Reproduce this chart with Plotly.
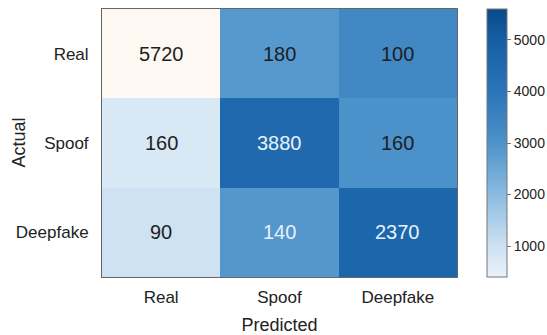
import plotly.graph_objects as go

# Confusion matrix: rows = actual class, columns = predicted class
classes = ["Real", "Spoof", "Deepfake"]
counts = [
    [5720, 180, 100],
    [160, 3880, 160],
    [90, 140, 2370],
]
# Shade level of each cell on the colour bar (None = unshaded cell)
cell_shade = [
    [None, 2850, 3350],
    [750, 4500, 3050],
    [950, 2900, 4650],
]
# Cells whose count is printed in light text
light_text = [
    [False, False, False],
    [False, True, False],
    [False, True, True],
]
cbar_ticks = [1000, 2000, 3000, 4000, 5000]

ZMIN, ZMAX = 400, 5600


def stop(v):
    return (v - ZMIN) / (ZMAX - ZMIN)


colorscale = [
    [0.0, "#eaf2fa"],
    [stop(1000), "#cde1f2"],
    [stop(2000), "#8bbbe0"],
    [stop(3000), "#4d93cb"],
    [stop(4000), "#2a74b8"],
    [stop(5000), "#155ea4"],
    [1.0, "#0a4a8a"],
]

FONT = "Liberation Sans, Arial, Helvetica, sans-serif"

fig = go.Figure(
    go.Heatmap(
        z=cell_shade,
        x=classes,
        y=classes,
        zmin=ZMIN,
        zmax=ZMAX,
        colorscale=colorscale,
        hoverongaps=False,
        colorbar=dict(
            thickness=20,
            len=1.0,
            lenmode="fraction",
            y=0.5,
            yanchor="middle",
            x=1.0845,
            xanchor="left",
            xpad=0,
            ypad=0,
            outlinecolor="#777",
            outlinewidth=1,
            tickvals=cbar_ticks,
            ticks="outside",
            ticklen=4,
            tickcolor="#777",
            tickfont=dict(family=FONT, size=14, color="#222"),
        ),
    )
)

# Count labels in each cell
for i, actual in enumerate(classes):
    for j, pred in enumerate(classes):
        fig.add_annotation(
            x=pred,
            y=actual,
            text=str(counts[i][j]),
            showarrow=False,
            font=dict(family=FONT, size=20,
                      color="#e8f1fa" if light_text[i][j] else "#1e1e1e"),
        )

# Y axis title sits close to the tick labels
fig.add_annotation(
    text="Actual",
    xref="paper",
    yref="paper",
    x=-0.235,
    y=0.5,
    xanchor="center",
    yanchor="middle",
    textangle=-90,
    showarrow=False,
    font=dict(family=FONT, size=18, color="#222"),
)

fig.update_layout(
    width=547,
    height=335,
    margin=dict(l=102, r=90, t=9, b=58, autoexpand=False),
    paper_bgcolor="white",
    plot_bgcolor="#fdf8f2",
    font=dict(family=FONT, color="#222"),
    xaxis=dict(
        title=dict(text="Predicted", font=dict(size=18), standoff=16),
        tickfont=dict(size=17),
        automargin=False,
        showline=True,
        mirror=True,
        linecolor="#666",
        linewidth=1,
        ticks="",
        ticklabelstandoff=5,
        showgrid=False,
        zeroline=False,
    ),
    yaxis=dict(
        tickfont=dict(size=17),
        automargin=False,
        autorange="reversed",
        showline=True,
        mirror=True,
        linecolor="#666",
        linewidth=1,
        ticks="",
        ticklabelstandoff=9,
        showgrid=False,
        zeroline=False,
    ),
)

fig.write_html("out.html")
